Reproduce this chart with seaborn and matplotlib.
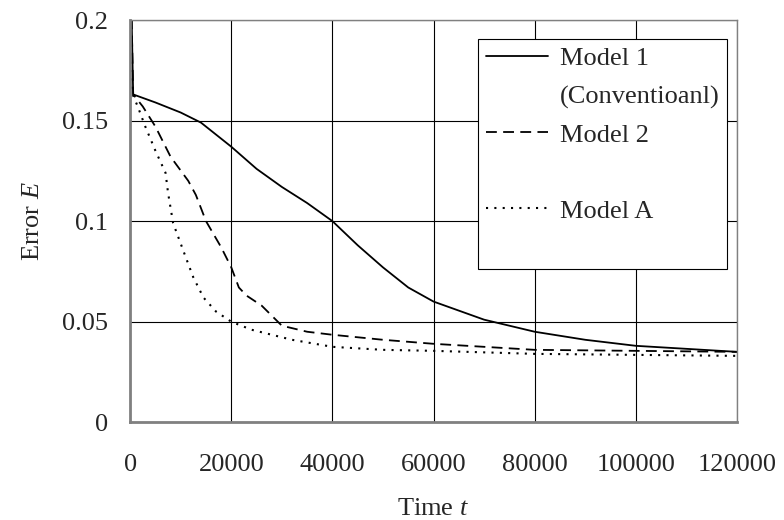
import numpy as np
import pandas as pd
import matplotlib
matplotlib.use("Agg")
import matplotlib.pyplot as plt
from matplotlib.lines import Line2D
import seaborn as sns

# values
t1 = [0, 300, 600, 5000, 10000, 14000, 20000, 25000, 30000, 35000, 40000, 45000,
      50000, 55000, 60000, 70000, 80000, 90000, 100000, 110000, 120000]
e1 = [0.2, 0.2, 0.163, 0.159, 0.154, 0.149, 0.137, 0.126, 0.117, 0.109, 0.100, 0.088,
      0.077, 0.067, 0.060, 0.051, 0.045, 0.041, 0.038, 0.0365, 0.035]

t2 = [0, 300, 600, 2500, 5000, 8000, 11500, 13000, 15000, 18000, 20000, 21500, 23000,
      26000, 28000, 30000, 35000, 40000, 50000, 60000, 70000, 80000, 100000, 120000]
e2 = [0.2, 0.2, 0.163, 0.157, 0.147, 0.132, 0.120, 0.113, 0.100, 0.087, 0.077, 0.067, 0.063,
      0.058, 0.053, 0.048, 0.045, 0.0435, 0.041, 0.039, 0.0375, 0.036, 0.0355, 0.035]

tA = [0, 500, 1500, 3000, 5000, 7000, 7500, 8500, 11000, 12500, 14500, 17000,
      20000, 24000, 28000, 32000, 40000, 50000, 60000, 80000, 100000, 120000]
eA = [0.2, 0.163, 0.157, 0.147, 0.135, 0.124, 0.114, 0.099, 0.082, 0.072, 0.062, 0.055,
      0.050, 0.046, 0.0435, 0.041, 0.0375, 0.036, 0.0355, 0.034, 0.0335, 0.033]

x_ticks = [0, 20000, 40000, 60000, 80000, 100000, 120000]
y_ticks = [0, 0.05, 0.1, 0.15, 0.2]
y_ticklabels = ["0", "0.05", "0.1", "0.15", "0.2"]

sns.set_style("white")
plt.rcParams["font.family"] = ["Liberation Serif", "DejaVu Serif"]
plt.rcParams["mathtext.fontset"] = "custom"
plt.rcParams["mathtext.rm"] = "Liberation Serif"
plt.rcParams["mathtext.it"] = "Liberation Serif:italic"

fs = 19

fig = plt.figure(figsize=(7.84, 5.2), dpi=100)
ax = fig.add_axes([0.166, 0.188, 0.774, 0.7735])

sns.lineplot(x=t1, y=e1, ax=ax, color="black", lw=1.3, linestyle="-")
sns.lineplot(x=t2, y=e2, ax=ax, color="black", lw=1.3, linestyle=(0, (6, 3.5)))
sns.lineplot(x=tA, y=eA, ax=ax, color="black", lw=1.5, linestyle=(0, (1, 3)))

ax.set_xlim(0, 120000)
ax.set_ylim(0, 0.2)
ax.set_xticks(x_ticks)
ax.set_xticklabels([str(v) for v in x_ticks])
ax.set_yticks(y_ticks)
ax.set_yticklabels(y_ticklabels)
ax.tick_params(axis="both", length=0, labelsize=fs)
ax.tick_params(axis="x", pad=23)
ax.tick_params(axis="y", pad=16)
ax.grid(True, color="black", lw=0.8)

for side in ["top", "right"]:
    ax.spines[side].set_color("#808080")
    ax.spines[side].set_linewidth(1.0)
for side in ["left", "bottom"]:
    ax.spines[side].set_color("#808080")
    ax.spines[side].set_linewidth(2.0)

ax.set_xlabel("Time $t$", fontsize=fs, labelpad=16)
ax.set_ylabel("Error $E$", fontsize=fs, labelpad=13)

blank = Line2D([], [], color="none")
handles = [
    Line2D([], [], color="black", lw=1.3, linestyle="-"),
    blank,
    Line2D([], [], color="black", lw=1.3, linestyle=(0, (6, 3.5))),
    blank,
    Line2D([], [], color="black", lw=1.5, linestyle=(0, (1, 3))),
    blank,
]
labels = ["Model 1", "(Conventioanl)", "Model 2", " ", "Model A", " "]
leg = ax.legend(handles, labels, loc="upper left", bbox_to_anchor=(0.573, 0.953),
                fontsize=fs, frameon=True, fancybox=False, framealpha=1,
                edgecolor="black", handlelength=2.35, handletextpad=0.45,
                labelspacing=0.55, borderpad=0.3, borderaxespad=0)
leg.get_frame().set_linewidth(0.8)

fig.savefig("out.png", dpi=100)
